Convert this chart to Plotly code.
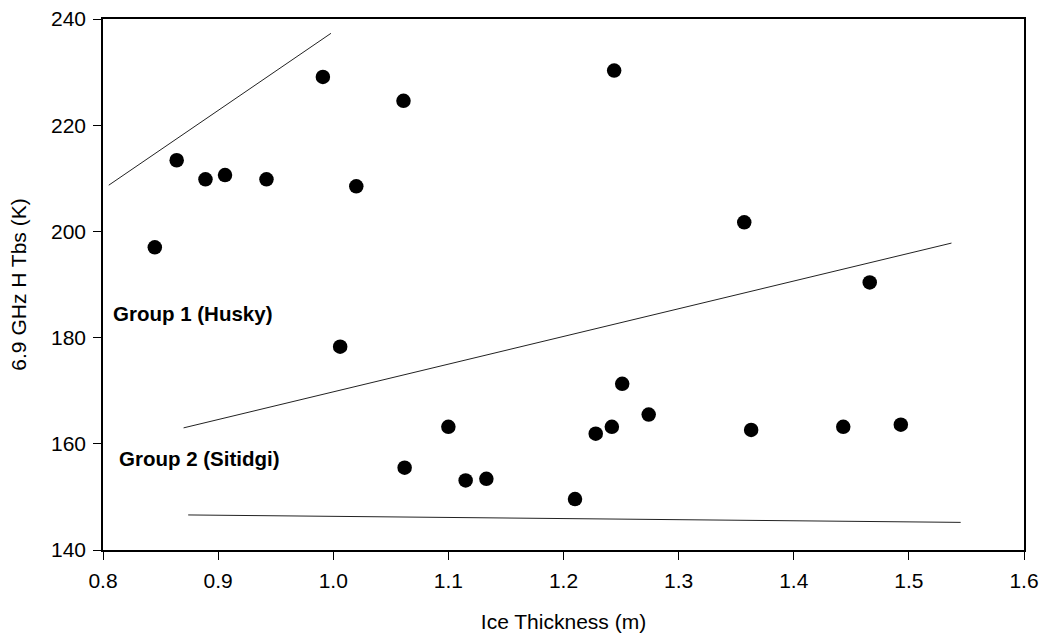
import plotly.graph_objects as go

ice_thickness = [0.845, 0.864, 0.889, 0.906, 0.942, 0.991, 1.006, 1.020, 1.061,
                 1.062, 1.100, 1.115, 1.133, 1.210, 1.228, 1.242, 1.244, 1.251,
                 1.274, 1.357, 1.363, 1.443, 1.466, 1.493]
tbs = [197.0, 213.4, 209.8, 210.6, 209.8, 229.1, 178.3, 208.5, 224.6,
       155.5, 163.2, 153.1, 153.4, 149.6, 161.9, 163.2, 230.3, 171.3,
       165.5, 201.7, 162.6, 163.2, 190.4, 163.6]

line1_x = [0.805, 0.998]
line1_y = [208.7, 237.3]
line2_x = [0.870, 1.537]
line2_y = [163.0, 197.8]
line3_x = [0.874, 1.545]
line3_y = [146.6, 145.2]

labels = ["Group 1 (Husky)", "Group 2 (Sitidgi)"]
label_x = [0.878, 0.884]
label_y = [184.5, 157.2]

x_ticks = [0.8, 0.9, 1.0, 1.1, 1.2, 1.3, 1.4, 1.5, 1.6]
y_ticks = [140, 160, 180, 200, 220, 240]

FONT = "Liberation Sans, Arial"

fig = go.Figure()
for lx, ly in [(line1_x, line1_y), (line2_x, line2_y), (line3_x, line3_y)]:
    fig.add_trace(go.Scatter(x=lx, y=ly, mode="lines",
                             line=dict(color="#222222", width=1), showlegend=False))
fig.add_trace(go.Scatter(x=ice_thickness, y=tbs, mode="markers",
                         marker=dict(color="black", size=14.5), showlegend=False))

for t, x, y in zip(labels, label_x, label_y):
    fig.add_annotation(x=x, y=y, text="<b>" + t + "</b>", showarrow=False,
                       font=dict(family=FONT, size=20.5, color="black"))

axis_common = dict(showline=True, linecolor="black", linewidth=1.6, mirror=True,
                   ticks="outside", ticklen=8, tickcolor="black", tickwidth=1.3,
                   showgrid=False, zeroline=False, automargin=False,
                   ticklabelstandoff=3,
                   tickfont=dict(family=FONT, size=21, color="black"))
fig.update_xaxes(range=[0.8, 1.6], tickvals=x_ticks,
                 ticktext=[f"{v:.1f}" for v in x_ticks],
                 title=dict(text="Ice Thickness (m)", standoff=24,
                            font=dict(family=FONT, size=21, color="black")),
                 **axis_common)
fig.update_yaxes(range=[140, 240], tickvals=y_ticks,
                 title=dict(text="6.9 GHz H Tbs (K)", standoff=19,
                            font=dict(family=FONT, size=21, color="black")),
                 **axis_common)
fig.update_layout(width=1044, height=633, plot_bgcolor="white", paper_bgcolor="white",
                  margin=dict(l=103, r=20, t=19, b=83))
fig.write_html("out.html")
